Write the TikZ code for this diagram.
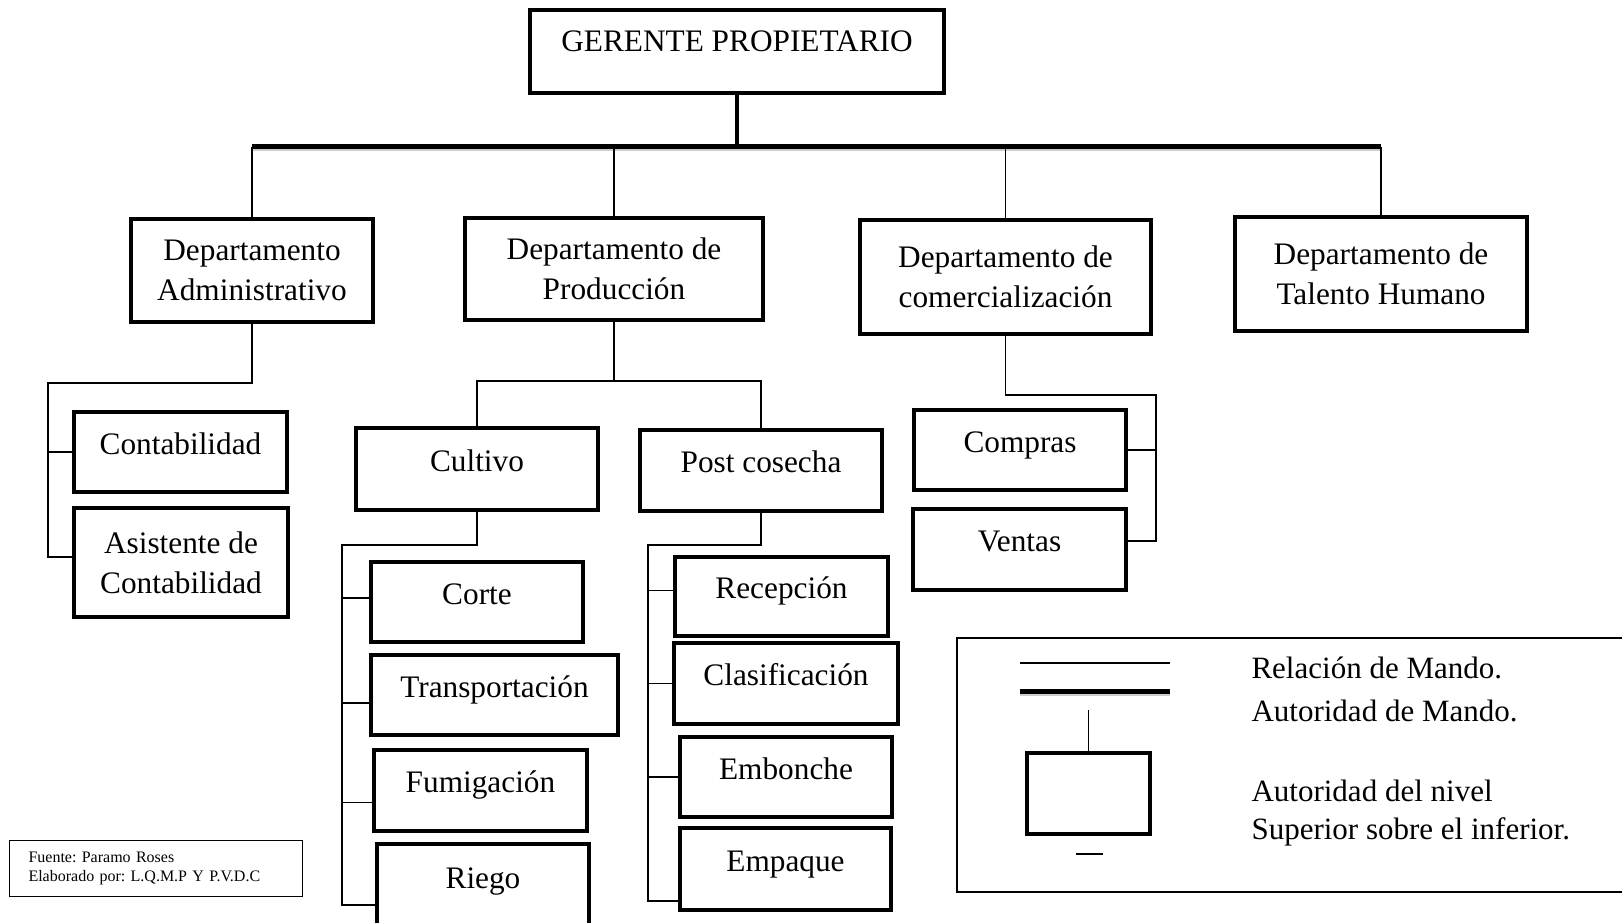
\documentclass[tikz,border=0pt]{standalone}
\usepackage{fontspec}
\setmainfont{Liberation Serif}
\begin{document}
\begin{tikzpicture}[x=1pt,y=-1pt,
  caja/.style={draw, line width=4.5pt, inner sep=0pt, align=center, font=\fontsize{31.3}{40}\selectfont},
  subir/.style={text height=22pt, text depth=18pt},
  enlace/.style={line width=1.5pt},
  mando/.style={line width=5pt},
  sombra/.style={line width=3pt, black!20},
  texto/.style={anchor=west, align=left, font=\fontsize{31}{38}\selectfont}]
\useasboundingbox (0,0) rectangle (1622,923);
\clip (0,0) rectangle (1622,923);
\node[caja, subir, text depth=22pt, minimum width=414, minimum height=83] (gerente) at (737,51.5) {GERENTE PROPIETARIO};
\node[caja, minimum width=242, minimum height=103] (admin) at (252,270.5) {Departamento\\Administrativo};
\node[caja, minimum width=298, minimum height=102] (prod) at (614,269) {Departamento de\\Producción};
\node[caja, minimum width=291, minimum height=114] (comer) at (1005.5,277) {Departamento de\\comercialización};
\node[caja, minimum width=292, minimum height=114] (talento) at (1381,274) {Departamento de\\Talento Humano};
\coordinate (barra) at (737,147);
\draw[sombra] (admin.north |- 0,150) -- (talento.north |- 0,150);
\draw[mando] (admin.north |- barra) -- (talento.north |- barra);
\draw[line width=4pt] (gerente.south) -- (barra);
\foreach \d in {admin,prod,comer,talento}
  \draw[enlace] (\d.north) -- (\d.north |- barra);
% administrativo
\node[caja, subir, minimum width=213, minimum height=80] (conta) at (180.5,452) {Contabilidad};
\node[caja, minimum width=214, minimum height=109] (asist) at (181,562.5) {Asistente de\\Contabilidad};
\coordinate (adminbus) at (48,383);
\draw[enlace] (admin.south) |- (adminbus) -- (adminbus |- 0,557) -- ++(26,0);
\draw[enlace] (adminbus |- conta.west) -- (conta.west);
% produccion
\node[caja, subir, minimum width=242, minimum height=82] (cultivo) at (477,469) {Cultivo};
\node[caja, subir, minimum width=242, minimum height=81] (postc) at (761,470.5) {Post cosecha};
\coordinate (prodbus) at (614,381);
\draw[enlace] (prod.south) -- (prodbus);
\draw[enlace] (cultivo.north) |- (prodbus) -| (postc.north);
\node[caja, subir, minimum width=212, minimum height=80] (corte) at (477,602) {Corte};
\node[caja, subir, minimum width=247, minimum height=80] (transp) at (494.5,695) {Transportación};
\node[caja, subir, minimum width=213, minimum height=81] (fumig) at (480.5,790.5) {Fumigación};
\node[caja, subir, minimum width=212, minimum height=84] (riego) at (483,886) {Riego};
\coordinate (cultbus) at (342,545);
\coordinate (cultend) at (342,905);
\draw[enlace] (cultivo.south) |- (cultbus) -- (cultend) -- (cultend -| riego.west);
\foreach \n/\s in {corte/4,transp/-8,fumig/-12}{
  \path ([yshift=\s pt]\n.west) coordinate (tick);
  \draw[enlace] (tick -| cultbus) -- (tick);
}
\node[caja, subir, minimum width=213, minimum height=79] (recep) at (781.5,596.5) {Recepción};
\node[caja, subir, minimum width=224, minimum height=81] (clasif) at (786,683.5) {Clasificación};
\node[caja, subir, minimum width=212, minimum height=80] (embon) at (786,777) {Embonche};
\node[caja, subir, minimum width=211, minimum height=82] (empaque) at (785.5,869) {Empaque};
\coordinate (postbus) at (648,545);
\coordinate (postend) at (648,901);
\draw[enlace] (postc.south) |- (postbus) -- (postend) -- (postend -| empaque.west);
\foreach \n/\s in {recep/6,clasif/0,embon/0}{
  \path ([yshift=\s pt]\n.west) coordinate (tick);
  \draw[enlace] (tick -| postbus) -- (tick);
}
% comercializacion
\node[caja, subir, minimum width=212, minimum height=80] (compras) at (1020,450) {Compras};
\node[caja, subir, minimum width=213, minimum height=81] (ventas) at (1019.5,549.5) {Ventas};
\coordinate (combus) at (1156,395);
\coordinate (comend) at (1156,541);
\draw[enlace] (comer.south) |- (combus) -- (comend) -- (comend -| ventas.east);
\draw[enlace] (combus |- compras.east) -- (compras.east);
% leyenda
\draw[line width=1.2pt] (957,638) rectangle (1640,892);
\draw[enlace] (1020,663) -- (1170,663);
\draw[sombra] (1020,694) -- (1170,694);
\draw[mando] (1020,691) -- (1170,691);
\node[caja, minimum width=123, minimum height=81] (legcaja) at (1088.5,793.5) {};
\draw[enlace] (legcaja.north) -- ++(0,-41);
\draw[enlace] (1076,854) -- (1103,854);
\node[texto] (relacion) at (1248,668) {Relación de Mando.};
\node[texto] (autoridad) at (1248,711) {Autoridad de Mando.};
\node[texto] (nivel) at (1248,813) {Autoridad del nivel\\Superior sobre el inferior.};
% fuente
\node[draw, line width=1pt, anchor=north west, minimum width=293, minimum height=56, text width=255, align=left, inner sep=0pt, font=\fontsize{16}{19.5}\selectfont\frenchspacing] (fuente) at (9,840) {Fuente: Paramo Roses\\Elaborado por: L.Q.M.P Y P.V.D.C};
\end{tikzpicture}
\end{document}
